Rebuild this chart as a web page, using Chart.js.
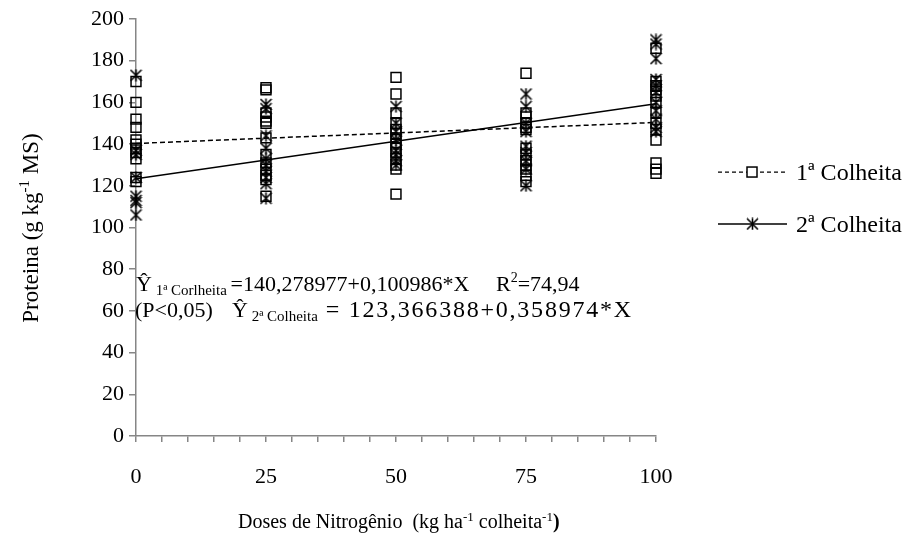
<!DOCTYPE html>
<html>
<head>
<meta charset="utf-8">
<script src="https://cdn.jsdelivr.net/npm/chart.js@4.4.0/dist/chart.umd.min.js"></script>
<style>
html, body { margin: 0; padding: 0; background: #fff; }
</style>
</head>
<body>
<canvas id="protChart" width="910" height="538"></canvas>
<script>
// doses de N (kg/ha/colheita) and protein readings per dose
var doses = [0, 25, 50, 75, 100];

var col1At0   = [170, 160, 152, 148, 142, 140, 138, 136, 133, 124, 122];
var col1At25  = [167, 166, 155, 153, 151, 150, 143, 135, 131, 128, 125, 123, 115];
var col1At50  = [172, 164, 155, 150, 147, 145, 143, 140, 138, 136, 133, 130, 128, 116];
var col1At75  = [174, 155, 153, 150, 148, 147, 138, 135, 132, 130, 128, 125, 122];
var col1At100 = [186, 170, 168, 166, 163, 160, 155, 150, 147, 142, 131, 128, 126];

var col2At0   = [173, 137, 135, 124, 115, 113, 112, 106];
var col2At25  = [159, 157, 144, 138, 133, 130, 127, 124, 121, 114];
var col2At50  = [158, 150, 146, 142, 137, 135, 132, 130];
var col2At75  = [164, 158, 150, 146, 139, 136, 132, 128, 120];
var col2At100 = [190, 188, 181, 171, 168, 165, 160, 156, 152, 148, 146];

// fitted lines, values at dose 0 and dose 100
var fitDoses = [0, 100];
var fit1 = [140.3, 150.4];
var fit2 = [123.4, 159.3];

var serif = "'Liberation Serif', 'Times New Roman', serif";
var axisGray = '#868686';

function toPoints(groups) {
    var pts = [];
    groups.forEach(function (vals, i) {
        vals.forEach(function (v) { pts.push({x: doses[i], y: v}); });
    });
    return pts;
}

function linePoints(xs, ys) {
    return xs.map(function (x, i) { return {x: x, y: ys[i]}; });
}

// asterisk marker: X with a vertical bar
function makeStar(size) {
    var c = document.createElement('canvas');
    c.width = size; c.height = size;
    var g = c.getContext('2d');
    g.strokeStyle = '#000';
    g.lineWidth = 1.6;
    var m = size / 2, r = size / 2 - 1;
    g.beginPath();
    g.moveTo(m - r, m - r); g.lineTo(m + r, m + r);
    g.moveTo(m + r, m - r); g.lineTo(m - r, m + r);
    g.moveTo(m, 0.5); g.lineTo(m, size - 0.5);
    g.stroke();
    return c;
}
var starImg = makeStar(13);

function setFont(ctx, s) {
    ctx.font = (s.bold ? 'bold ' : '') + s.size + 'px ' + serif;
}

function richWidth(ctx, segs) {
    var w = 0;
    segs.forEach(function (s) { setFont(ctx, s); w += ctx.measureText(s.t).width; });
    return w;
}

// text runs with sub/superscripts; "fit" stretches a run to end at that x
function drawRich(ctx, segs, x, y) {
    ctx.textAlign = 'left';
    ctx.textBaseline = 'alphabetic';
    ctx.fillStyle = '#000';
    segs.forEach(function (s) {
        if (s.at !== undefined) x = s.at;
        setFont(ctx, s);
        var sp = 0;
        if (s.fit !== undefined) {
            ctx.letterSpacing = '0px';
            sp = Math.max(0, (s.fit - x - ctx.measureText(s.t).width) / (s.t.length - 0.5));
        }
        ctx.letterSpacing = sp + 'px';
        ctx.fillText(s.t, x, y + (s.dy || 0));
        x += ctx.measureText(s.t).width;
    });
    ctx.letterSpacing = '0px';
}

var extras = {
    id: 'extras',
    afterDraw: function (chart) {
        var ctx = chart.ctx;
        var area = chart.chartArea;
        var xs = chart.scales.x, ys = chart.scales.y;
        ctx.save();

        // y title
        var yTitle = [
            {t: 'Proteina (g kg', size: 23},
            {t: '-1', size: 15, dy: -9},
            {t: ' MS)', size: 23}
        ];
        var w = richWidth(ctx, yTitle);
        ctx.save();
        ctx.translate(38, 228);
        ctx.rotate(-Math.PI / 2);
        drawRich(ctx, yTitle, -w / 2, 0);
        ctx.restore();

        // x title
        drawRich(ctx, [
            {t: 'Doses de Nitrogênio  (kg ha', size: 20},
            {t: '-1', size: 13, dy: -7},
            {t: ' colheita', size: 20},
            {t: '-1', size: 13, dy: -7},
            {t: ')', size: 20, bold: true}
        ], 238, 528);

        // regression equations
        var x0 = xs.getPixelForValue(0);
        drawRich(ctx, [
            {t: 'Ŷ', size: 22},
            {t: ' 1ª Corlheita ', size: 15, dy: 4},
            {t: '=140,278977+0,100986*X', size: 22},
            {t: 'R', size: 22, at: 496},
            {t: '2', size: 14, dy: -9},
            {t: '=74,94', size: 22}
        ], x0, 291);
        drawRich(ctx, [
            {t: '(P<0,05)', size: 22},
            {t: 'Ŷ', size: 22, at: 232},
            {t: ' 2ª Colheita', size: 15, dy: 4},
            {t: ' = 123,366388+0,358974*X', size: 24, fit: 632}
        ], x0 - 1, 317);

        // legend
        var lx = area.right + 62;
        var ly1 = ys.getPixelForValue(126.6), ly2 = ys.getPixelForValue(101.7);
        ctx.strokeStyle = '#000';
        ctx.lineWidth = 1.3;
        ctx.setLineDash([4, 3]);
        ctx.beginPath(); ctx.moveTo(lx, ly1); ctx.lineTo(lx + 69, ly1); ctx.stroke();
        ctx.setLineDash([]);
        ctx.fillStyle = '#fff';
        ctx.fillRect(lx + 29, ly1 - 5, 10, 10);
        ctx.lineWidth = 1.5;
        ctx.strokeRect(lx + 29, ly1 - 5, 10, 10);
        ctx.beginPath(); ctx.moveTo(lx, ly2); ctx.lineTo(lx + 69, ly2); ctx.stroke();
        ctx.drawImage(starImg, lx + 28, ly2 - 6.5);
        drawRich(ctx, [{t: '1ª Colheita', size: 24}], lx + 78, ly1 + 8);
        drawRich(ctx, [{t: '2ª Colheita', size: 24}], lx + 78, ly2 + 8);
        ctx.restore();
    }
};

var ctx = document.getElementById('protChart').getContext('2d');
var protChart = new Chart(ctx, {
    type: 'scatter',
    data: {
        datasets: [{
            label: '1ª Colheita (ajuste)',
            type: 'line',
            data: linePoints(fitDoses, fit1),
            borderColor: '#000',
            borderWidth: 1.5,
            borderDash: [5, 3],
            pointRadius: 0,
            fill: false,
            order: 0
        }, {
            label: '2ª Colheita (ajuste)',
            type: 'line',
            data: linePoints(fitDoses, fit2),
            borderColor: '#000',
            borderWidth: 1.5,
            pointRadius: 0,
            fill: false,
            order: 0
        }, {
            label: '1ª Colheita',
            data: toPoints([col1At0, col1At25, col1At50, col1At75, col1At100]),
            pointStyle: 'rect',
            pointRadius: 7,
            backgroundColor: 'rgba(255,255,255,0)',
            borderColor: '#000',
            borderWidth: 1.5,
            clip: false,
            order: 2
        }, {
            label: '2ª Colheita',
            data: toPoints([col2At0, col2At25, col2At50, col2At75, col2At100]),
            pointStyle: starImg,
            pointRadius: 6,
            clip: false,
            order: 1
        }]
    },
    options: {
        responsive: false,
        animation: false,
        layout: { padding: { left: 56, right: 254, top: 19, bottom: 0 } },
        plugins: {
            legend: { display: false },
            tooltip: { enabled: false }
        },
        scales: {
            x: {
                type: 'linear',
                min: 0,
                max: 100,
                ticks: {
                    stepSize: 5,
                    autoSkip: false,
                    maxRotation: 0,
                    padding: 22,
                    color: '#000',
                    font: { family: serif, size: 22 },
                    callback: function (v) { return v % 25 === 0 ? v : ''; }
                },
                grid: { drawOnChartArea: false, tickLength: 6, color: axisGray, lineWidth: 1.5 },
                border: { color: axisGray, width: 1.5 },
                afterFit: function (s) { s.height = 102; }
            },
            y: {
                min: 0,
                max: 200,
                ticks: {
                    stepSize: 20,
                    padding: 5,
                    color: '#000',
                    font: { family: serif, size: 22 }
                },
                grid: { drawOnChartArea: false, tickLength: 7, color: axisGray, lineWidth: 1.5 },
                border: { color: axisGray, width: 1.5 },
                afterFit: function (s) { s.width = 80; }
            }
        }
    },
    plugins: [extras]
});
</script>
</body>
</html>
